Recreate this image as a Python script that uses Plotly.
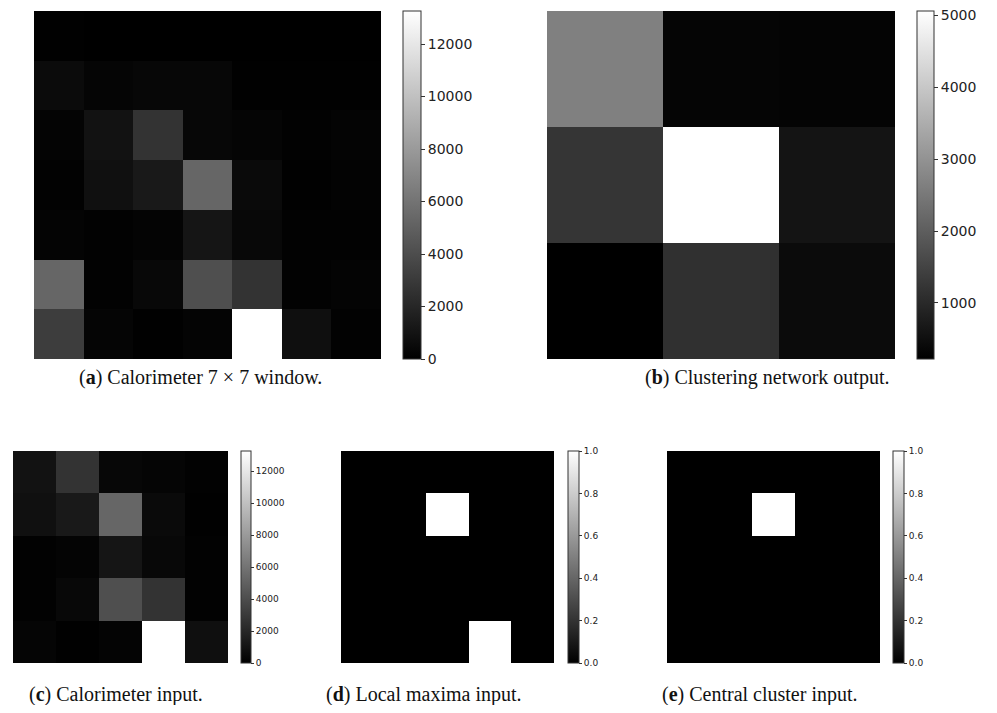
import numpy as np
import plotly.graph_objects as go

# The page body keeps an 8px margin, so the figure is sized to fit inside it
OFF = 8
W, H = 997 - 2 * OFF, 713 - 2 * OFF

# Panel (a): calorimeter 7x7 window (energy values, row 0 = top)
calo_7x7 = [
    [30, 20, 25, 15, 10, 10, 10],
    [572, 260, 364, 364, 52, 52, 52],
    [208, 936, 2652, 364, 260, 104, 208],
    [104, 832, 1300, 5304, 520, 52, 156],
    [208, 104, 208, 1092, 416, 104, 104],
    [5304, 104, 416, 4108, 2652, 104, 208],
    [3172, 260, 52, 208, 13257, 780, 104],
]
calo_range = [0, 13257]
calo_ticks = [0, 2000, 4000, 6000, 8000, 10000, 12000]

# Panel (b): clustering network output 3x3
cluster_out = [
    [2649, 317, 298],
    [1227, 5056, 601],
    [222, 1132, 430],
]
cluster_range = [222, 5056]
cluster_ticks = [1000, 2000, 3000, 4000, 5000]

# Panel (c): calorimeter input (central 5x5 crop of the window)
calo_input = [row[1:6] for row in calo_7x7[2:7]]

# Panel (d): local maxima input
local_maxima = [
    [0, 0, 0, 0, 0],
    [0, 0, 1, 0, 0],
    [0, 0, 0, 0, 0],
    [0, 0, 0, 0, 0],
    [0, 0, 0, 1, 0],
]
# Panel (e): central cluster input
central_cluster = [
    [0, 0, 0, 0, 0],
    [0, 0, 1, 0, 0],
    [0, 0, 0, 0, 0],
    [0, 0, 0, 0, 0],
    [0, 0, 0, 0, 0],
]
unit_ticks = [0.0, 0.2, 0.4, 0.6, 0.8, 1.0]

captions = [
    "(<b>a</b>) Calorimeter 7 × 7 window.",
    "(<b>b</b>) Clustering network output.",
    "(<b>c</b>) Calorimeter input.",
    "(<b>d</b>) Local maxima input.",
    "(<b>e</b>) Central cluster input.",
]

gray = [[0, "rgb(0,0,0)"], [1, "rgb(255,255,255)"]]

# pixel layout in page coords: (x0, x1, y0, y1, cb_x0, cb_thick, font size)
panels = [
    (calo_7x7, calo_range, calo_ticks, "d", (34, 381, 11, 359, 403, 18, 14)),
    (cluster_out, cluster_range, cluster_ticks, "d", (547, 895, 11, 359, 917, 17, 14)),
    (calo_input, calo_range, calo_ticks, "d", (13, 228, 451, 663, 241, 10, 9)),
    (local_maxima, [0, 1], unit_ticks, ".1f", (341, 554, 451, 663, 568, 11, 9)),
    (central_cluster, [0, 1], unit_ticks, ".1f", (667, 880, 451, 663, 893, 11, 9)),
]


def px(v):
    return (v - OFF) / W


def py(v):
    return 1 - (v - OFF) / H


fig = go.Figure()
layout = {}
for i, (z, zr, ticks, fmt, (x0, x1, y0, y1, cbx, cbt, fs)) in enumerate(panels):
    n = len(z)
    ax = "" if i == 0 else str(i + 1)
    cb = dict(
        x=px(cbx), xanchor="left", thickness=cbt, thicknessmode="pixels",
        len=(y1 - y0) / H, lenmode="fraction",
        y=py((y0 + y1) / 2), yanchor="middle",
        outlinewidth=1, outlinecolor="#333",
        tickvals=ticks, tickformat=fmt, ticks="outside",
        ticklen=4 if fs > 10 else 3, ticklabeloverflow="allow",
        tickwidth=1, tickcolor="#333", xpad=0, ypad=0,
        tickfont=dict(family="DejaVu Sans", size=fs, color="#222"),
    )
    fig.add_trace(go.Heatmap(
        z=z, zmin=zr[0], zmax=zr[1], colorscale=gray, colorbar=cb,
        xaxis="x" + ax, yaxis="y" + ax, hoverinfo="skip",
    ))
    layout["xaxis" + ax] = dict(
        domain=[px(x0), px(x1)], range=[-0.5, n - 0.5], showticklabels=False,
        showgrid=False, zeroline=False, ticks="", anchor="y" + ax, fixedrange=True,
    )
    layout["yaxis" + ax] = dict(
        domain=[py(y1), py(y0)], range=[n - 0.5, -0.5], showticklabels=False,
        showgrid=False, zeroline=False, ticks="", anchor="x" + ax, fixedrange=True,
    )

cap_pos = [(200, 377), (767, 377), (116, 694), (424, 694), (760, 694)]
annotations = []
for text, (cx, cy) in zip(captions, cap_pos):
    annotations.append(dict(
        text=text, x=px(cx), y=py(cy), xref="paper", yref="paper",
        xanchor="center", yanchor="middle", showarrow=False,
        font=dict(family="Liberation Serif", size=20, color="#111"),
    ))

fig.update_layout(
    width=W, height=H, margin=dict(l=0, r=0, t=0, b=0),
    paper_bgcolor="white", plot_bgcolor="white",
    annotations=annotations, **layout,
)
fig.write_html("out.html")
